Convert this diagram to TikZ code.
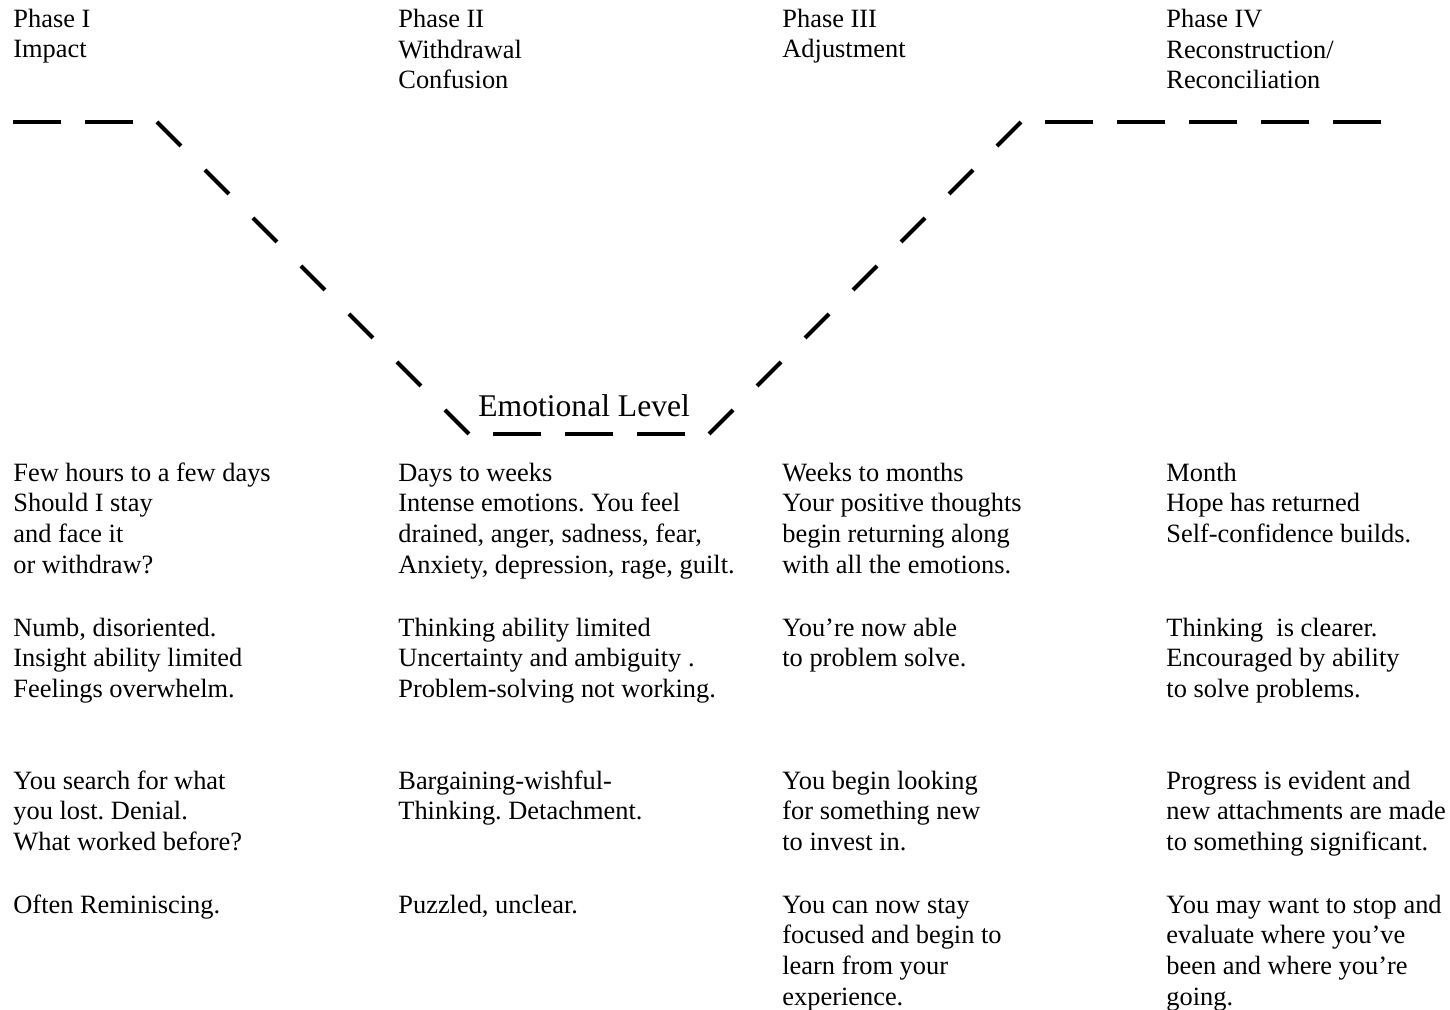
\documentclass[tikz,border=0pt]{standalone}
\usepackage{fontspec}
\setmainfont{Liberation Serif}
\frenchspacing

\begin{document}
\begin{tikzpicture}[
		x=0.5pt, y=-0.5pt,
		txt/.style={anchor=base west, align=left, inner sep=0pt, font=\fontsize{13.2}{15.4}\selectfont},
		level/.style={anchor=base west, inner sep=0pt, font=\fontsize{15.8}{19}\selectfont},
		flat/.style={line width=2pt, dash pattern=on 24pt off 12pt},
		slope/.style={line width=2pt, dash pattern=on 16.97pt off 16.97pt},
		]
		\useasboundingbox (0,0) rectangle (1450,1010);

		%Phase Headers (placed at the baseline of their last line)
		\node[txt]	(phase_1)	at (13,58)		{Phase I\\Impact};
		\node[txt]	(phase_2)	at (398,89)		{Phase II\\Withdrawal\\Confusion};
		\node[txt]	(phase_3)	at (782,58)		{Phase III\\Adjustment};
		\node[txt]	(phase_4)	at (1166,89)	{Phase IV\\Reconstruction/\\Reconciliation};

		%Emotional Level Line
		\coordinate	(lvl_1)	at (13,122);
		\coordinate	(lvl_2)	at (133,122);
		\coordinate	(lvl_3)	at (157,122);
		\coordinate	(lvl_4)	at (469,434);
		\coordinate	(lvl_5)	at (493,434);
		\coordinate	(lvl_6)	at (685,434);
		\coordinate	(lvl_7)	at (709,434);
		\coordinate	(lvl_8)	at (1021,122);
		\coordinate	(lvl_9)	at (1045,122);
		\coordinate	(lvl_10)	at (1381,122);
		\draw[flat]		(lvl_1) -- (lvl_2);
		\draw[slope]	(lvl_3) -- (lvl_4);
		\draw[flat]		(lvl_5) -- (lvl_6);
		\draw[slope]	(lvl_7) -- (lvl_8);
		\draw[flat]		(lvl_9) -- (lvl_10);
		\node[level]	(level)	at (478,416)	{Emotional Level};

		%Phase I
		\node[txt]	(imp_1)	at (13,573.4)	{Few hours to a few days\\Should I stay\\and face it\\or withdraw?};
		\node[txt]	(imp_2)	at (13,697.6)	{Numb, disoriented.\\Insight ability limited\\Feelings overwhelm.};
		\node[txt]	(imp_3)	at (13,850.6)	{You search for what\\you lost. Denial.\\What worked before?};
		\node[txt]	(imp_4)	at (13,913)		{Often Reminiscing.};

		%Phase II
		\node[txt]	(wdr_1)	at (398,573.4)	{Days to weeks\\Intense emotions. You feel\\drained, anger, sadness, fear,\\Anxiety, depression, rage, guilt.};
		\node[txt]	(wdr_2)	at (398,697.6)	{Thinking ability limited\\Uncertainty and ambiguity .\\Problem-solving not working.};
		\node[txt]	(wdr_3)	at (398,819.8)	{Bargaining-wishful-\\Thinking. Detachment.};
		\node[txt]	(wdr_4)	at (398,913)	{Puzzled, unclear.};

		%Phase III
		\node[txt]	(adj_1)	at (782,573.4)	{Weeks to months\\Your positive thoughts\\begin returning along\\with all the emotions.};
		\node[txt]	(adj_2)	at (782,666.8)	{You’re now able\\to problem solve.};
		\node[txt]	(adj_3)	at (782,850.6)	{You begin looking\\for something new\\to invest in.};
		\node[txt]	(adj_4)	at (782,1005.4)	{You can now stay\\focused and begin to\\learn from your\\experience.};

		%Phase IV
		\node[txt]	(rec_1)	at (1166,542.6)	{Month\\Hope has returned\\Self-confidence builds.};
		\node[txt]	(rec_2)	at (1166,697.6)	{Thinking~ is clearer.\\Encouraged by ability\\to solve problems.};
		\node[txt]	(rec_3)	at (1166,850.6)	{Progress is evident and\\new attachments are made\\to something significant.};
		\node[txt]	(rec_4)	at (1166,1005.4)	{You may want to stop and\\evaluate where you’ve\\been and where you’re\\going.};

	\end{tikzpicture}
\end{document}
